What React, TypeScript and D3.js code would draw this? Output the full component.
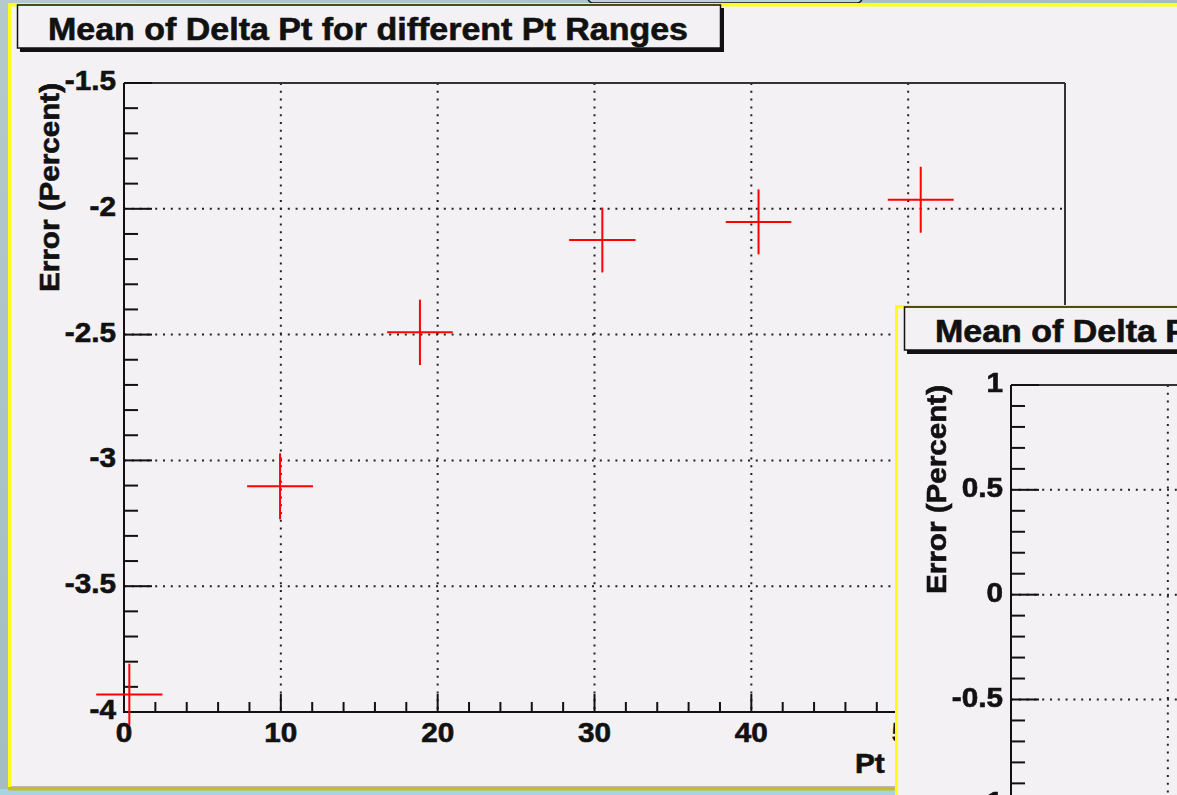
import React from 'react';
import * as d3 from 'd3';

// ---- data ----
const ptCenters = [0.34, 9.95, 18.87, 30.5, 40.46, 50.8];
const ptHalfWidths = [2.11, 2.1, 2.09, 2.12, 2.09, 2.1];
const meanDeltaPt = [-3.93, -3.103, -2.491, -2.124, -2.052, -1.964];
const meanErrors = [0.122, 0.131, 0.13, 0.129, 0.129, 0.131];

const xDomain = [0, 60];
const xTickValues = [0, 10, 20, 30, 40, 50, 60];
const xTickLabels = ['0', '10', '20', '30', '40', '50', '60'];

const yDomainMain = [-4, -1.5];
const yTickValuesMain = [-4, -3.5, -3, -2.5, -2, -1.5];
const yTickLabelsMain = ['-4', '-3.5', '-3', '-2.5', '-2', '-1.5'];

const yDomainInset = [-2, 1];
const yTickValuesInset = [-2, -1.5, -1, -0.5, 0, 0.5, 1];
const yTickLabelsInset = ['-2', '-1.5', '-1', '-0.5', '0', '0.5', '1'];

const titleText = 'Mean of Delta Pt for different Pt Ranges';
const yTitleText = 'Error (Percent)';
const xTitleText = 'Pt';

const FONT = '"Liberation Sans", Arial, Helvetica, sans-serif';
const heavy = { stroke: '#111', strokeWidth: 0.6, paintOrder: 'stroke' as const };

type PanelProps = {
  dx: number;
  dy: number;
  yDomain: number[];
  yTicks: number[];
  yLabels: string[];
  xs: number[];
  xe: number[];
  ys: number[];
  ye: number[];
};

function Panel({ dx, dy, yDomain, yTicks, yLabels, xs, xe, ys, ye }: PanelProps) {
  const x = d3.scaleLinear().domain(xDomain).range([124, 1065]);
  const y = d3.scaleLinear().domain(yDomain).range([712, 83]);
  const xMinor = x.ticks(30).filter((v) => !xTickValues.includes(v));
  const yMinor = y.ticks(25).filter((v) => Math.abs(v * 2 - Math.round(v * 2)) > 1e-6);
  const [x0, x1] = x.range();
  const [yb, yt] = y.range();
  const gridX = xTickValues.filter((v) => v > xDomain[0] && v < xDomain[1]);
  const gridY = yTicks.filter((v) => v > yDomain[0] && v < yDomain[1]);
  const grid = { stroke: '#222', strokeWidth: 2, strokeDasharray: '2 5.8' };

  return (
    <g transform={`translate(${dx},${dy})`}>
      {/* canvas */}
      <rect x={8} y={3} width={1400} height={787} fill="#f4f1f4" />
      <rect x={8} y={3} width={1400} height={3.5} fill="#ffff18" />
      <rect x={8} y={3} width={3} height={787} fill="#ffff18" />
      <rect x={11} y={786} width={1400} height={1} fill="#b8b8b8" />
      <rect x={8} y={787} width={1400} height={3.5} fill="#c4bc2a" />

      {/* title box */}
      <rect x={720} y={8} width={4} height={44} fill="#111" />
      <rect x={20} y={47.5} width={704} height={4.5} fill="#111" />
      <rect x={17.5} y={5} width={703} height={43} fill="#f4f1f4" stroke="#111" strokeWidth={1.5} />
      <text x={48} y={40} fontFamily={FONT} fontWeight="bold" fontSize={31} fill="#111" {...heavy}
        textLength={640} lengthAdjust="spacingAndGlyphs">{titleText}</text>

      {/* grid */}
      {gridX.map((v) => (
        <line key={'gx' + v} x1={x(v)} x2={x(v)} y1={yt} y2={yb} {...grid} />
      ))}
      {gridY.map((v) => (
        <line key={'gy' + v} x1={x0} x2={x1} y1={y(v)} y2={y(v)} {...grid} />
      ))}

      {/* frame */}
      <line x1={x0} x2={x1} y1={yt} y2={yt} stroke="#333" strokeWidth={2} />
      <line x1={x1} x2={x1} y1={yt} y2={yb} stroke="#333" strokeWidth={2} />

      {/* axes */}
      <line x1={x0} x2={x0} y1={yt} y2={yb + 1} stroke="#111" strokeWidth={2} />
      <line x1={x0 - 1} x2={x1} y1={yb} y2={yb} stroke="#111" strokeWidth={2} />

      {yTicks.map((v) => (
        <line key={'yM' + v} x1={x0} x2={x0 + 28} y1={y(v)} y2={y(v)} stroke="#111" strokeWidth={2} />
      ))}
      {yMinor.map((v) => (
        <line key={'ym' + v} x1={x0} x2={x0 + 14} y1={y(v)} y2={y(v)} stroke="#111" strokeWidth={2} />
      ))}
      {xTickValues.map((v) => (
        <line key={'xM' + v} x1={x(v)} x2={x(v)} y1={yb} y2={yb - 18} stroke="#111" strokeWidth={2} />
      ))}
      {xMinor.map((v) => (
        <line key={'xm' + v} x1={x(v)} x2={x(v)} y1={yb} y2={yb - 10} stroke="#111" strokeWidth={2} />
      ))}

      {/* tick labels */}
      {yTicks.map((v, i) => (
        <text key={'yl' + v} transform={`translate(116,${y(v) + 7}) scale(1.1,1)`} textAnchor="end"
          fontFamily={FONT} fontWeight="bold" fontSize={27} fill="#111" {...heavy}>{yLabels[i]}</text>
      ))}
      {xTickValues.map((v, i) => (
        <text key={'xl' + v} transform={`translate(${x(v)},${yb + 30}) scale(1.1,1)`} textAnchor="middle"
          fontFamily={FONT} fontWeight="bold" fontSize={27} fill="#111" {...heavy}>{xTickLabels[i]}</text>
      ))}

      {/* axis titles */}
      <text transform={`translate(59,${yt}) rotate(-90)`} textAnchor="end" fontFamily={FONT} {...heavy}
        fontWeight="bold" fontSize={28} fill="#111" textLength={209} lengthAdjust="spacingAndGlyphs">{yTitleText}</text>
      <text transform={`translate(855,773) scale(1.1,1)`} fontFamily={FONT} fontWeight="bold" {...heavy}
        fontSize={27} fill="#111">{xTitleText}</text>

      {/* data: error crosses */}
      {xs.map((v, i) => (
        <g key={'p' + i} stroke="#ff0000" strokeWidth={2}>
          <line x1={x(v - xe[i])} x2={x(v + xe[i])} y1={y(ys[i])} y2={y(ys[i])} />
          <line x1={x(v)} x2={x(v)} y1={y(ys[i] - ye[i])} y2={y(ys[i] + ye[i])} />
        </g>
      ))}
    </g>
  );
}

export default function App() {
  return (
    <div style={{ position: 'fixed', left: 0, top: 0 }}>
      <svg width={1177} height={795} style={{ display: 'block' }}>
        <defs>
          <linearGradient id="bg" x1="0" y1="0" x2="1" y2="1">
            <stop offset="0" stopColor="#b4cacd" />
            <stop offset="0.5" stopColor="#a4bcc2" />
            <stop offset="1" stopColor="#a8d2de" />
          </linearGradient>
        </defs>
        <rect x={0} y={0} width={1177} height={795} fill="url(#bg)" />
        <rect x={0} y={789} width={1177} height={6} fill="#a6d4e2" />
        <rect x={588} y={-12} width={274} height={15} rx={5} fill="#bcd4d8" stroke="#111" strokeWidth={1.5} />
        <Panel dx={0} dy={0} yDomain={yDomainMain} yTicks={yTickValuesMain} yLabels={yTickLabelsMain}
          xs={ptCenters} xe={ptHalfWidths} ys={meanDeltaPt} ye={meanErrors} />
        <Panel dx={887} dy={302} yDomain={yDomainInset} yTicks={yTickValuesInset} yLabels={yTickLabelsInset}
          xs={[]} xe={[]} ys={[]} ye={[]} />
      </svg>
    </div>
  );
}
